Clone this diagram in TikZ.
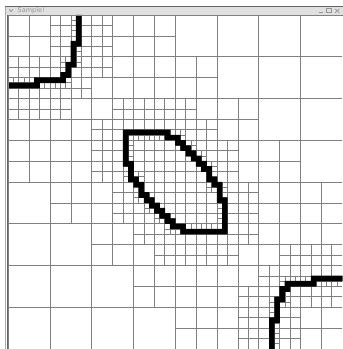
\documentclass[tikz,border=0pt]{standalone}
\usepackage{fontspec}
\setmainfont{DejaVu Sans}
\definecolor{gridgray}{RGB}{128,128,128}
\definecolor{titlebg}{RGB}{224,224,224}
\definecolor{framedark}{RGB}{100,100,100}
\definecolor{framelight}{RGB}{170,170,170}
\definecolor{titletext}{RGB}{150,150,150}
\ExplSyntaxOn
\dim_const:Nn \c_qt_h_dim {2.609375pt}

\intarray_new:cn { g_qt_st_0_intarray } {1}
\intarray_new:cn { g_qt_st_1_intarray } {4}
\intarray_new:cn { g_qt_st_2_intarray } {16}
\intarray_new:cn { g_qt_st_3_intarray } {64}
\intarray_new:cn { g_qt_st_4_intarray } {256}
\intarray_new:cn { g_qt_st_5_intarray } {1024}
\intarray_new:cn { g_qt_st_6_intarray } {4096}
\intarray_new:cn { g_qt_st_7_intarray } {16384}
\intarray_new:cn { g_qt_sp_0_intarray } {1}
\intarray_new:cn { g_qt_sp_1_intarray } {4}
\intarray_new:cn { g_qt_sp_2_intarray } {16}
\intarray_new:cn { g_qt_sp_3_intarray } {64}
\intarray_new:cn { g_qt_sp_4_intarray } {256}
\intarray_new:cn { g_qt_sp_5_intarray } {1024}
\intarray_new:cn { g_qt_sp_6_intarray } {4096}

\int_new:N \l_qt_side_int
\int_new:N \l_qt_cside_int
\int_new:N \l_qt_s_int
\int_new:N \l_qt_lev_int
\int_new:N \l_qt_a_int
\int_new:N \l_qt_b_int
\int_new:N \l_qt_c_int
\int_new:N \l_qt_d_int
\int_new:N \l_qt_fx_int
\int_new:N \l_qt_fy_int
\int_new:N \l_qt_fl_int
\int_new:N \l_qt_fs_int
\tl_new:N \l_qt_lt_tl
\tl_new:N \l_qt_ct_tl
\tl_new:N \l_qt_x_tl
\tl_new:N \l_qt_y_tl

\cs_new_protected:Npn \qt_black:nn #1#2
  { \intarray_gset:cnn { g_qt_st_7_intarray } { (#1) * 128 + (#2) + 1 } { 1 } }
\cs_new_protected:Npn \qt_unit:nn #1#2
  {
    \qt_black:nn { 2*(#1) } { 2*(#2) }
    \qt_black:nn { 2*(#1)+1 } { 2*(#2) }
    \qt_black:nn { 2*(#1) } { 2*(#2)+1 }
    \qt_black:nn { 2*(#1)+1 } { 2*(#2)+1 }
  }
% a pixel and its copy turned by 180 degrees about the centre
\cs_new_protected:Npn \qt_pix:nn #1#2
  { \qt_unit:nn {#1} {#2} \qt_unit:nn { 63-(#1) } { 63-(#2) } }
\cs_new_protected:Npn \qt_hrun:nnn #1#2#3
  { \int_step_inline:nnn {#2} {#3} { \qt_pix:nn {##1} {#1} } }
\cs_new_protected:Npn \qt_vrun:nnn #1#2#3
  { \int_step_inline:nnn {#2} {#3} { \qt_pix:nn {#1} {##1} } }

\cs_new_protected:Npn \qt_combine:nn #1#2
  {
    \int_set:Nn \l_qt_a_int { \intarray_item:cn { g_qt_st_ \l_qt_ct_tl _intarray } { (2*(#1)) * \l_qt_cside_int + 2*(#2) + 1 } }
    \int_set:Nn \l_qt_b_int { \intarray_item:cn { g_qt_st_ \l_qt_ct_tl _intarray } { (2*(#1)+1) * \l_qt_cside_int + 2*(#2) + 1 } }
    \int_set:Nn \l_qt_c_int { \intarray_item:cn { g_qt_st_ \l_qt_ct_tl _intarray } { (2*(#1)) * \l_qt_cside_int + 2*(#2) + 2 } }
    \int_set:Nn \l_qt_d_int { \intarray_item:cn { g_qt_st_ \l_qt_ct_tl _intarray } { (2*(#1)+1) * \l_qt_cside_int + 2*(#2) + 2 } }
    \int_compare:nTF { \l_qt_a_int = \l_qt_b_int = \l_qt_c_int = \l_qt_d_int < 2 }
      { \intarray_gset:cnn { g_qt_st_ \l_qt_lt_tl _intarray } { (#1) * \l_qt_side_int + (#2) + 1 } { \l_qt_a_int } }
      {
        \intarray_gset:cnn { g_qt_st_ \l_qt_lt_tl _intarray } { (#1) * \l_qt_side_int + (#2) + 1 } { 2 }
        \intarray_gset:cnn { g_qt_sp_ \l_qt_lt_tl _intarray } { (#1) * \l_qt_side_int + (#2) + 1 } { 1 }
      }
  }

\cs_new_protected:Npn \qt_level_combine:n #1
  {
    \tl_set:Nx \l_qt_lt_tl { \int_eval:n {#1} }
    \tl_set:Nx \l_qt_ct_tl { \int_eval:n {#1+1} }
    \int_set:Nn \l_qt_side_int { \fp_eval:n { 2^(#1) } }
    \int_set:Nn \l_qt_cside_int { 2 * \l_qt_side_int }
    \int_step_variable:nnNn {0} { \l_qt_side_int - 1 } \l_qt_x_tl
      {
        \int_step_variable:nnNn {0} { \l_qt_side_int - 1 } \l_qt_y_tl
          { \qt_combine:nn { \l_qt_x_tl } { \l_qt_y_tl } }
      }
  }

\cs_new_protected:Npn \qt_force_up:
  {
    \int_compare:nNnT
      { \intarray_item:cn { g_qt_sp_ \int_use:N \l_qt_fl_int _intarray } { \l_qt_fx_int * \l_qt_fs_int + \l_qt_fy_int + 1 } } = 0
      {
        \intarray_gset:cnn { g_qt_sp_ \int_use:N \l_qt_fl_int _intarray } { \l_qt_fx_int * \l_qt_fs_int + \l_qt_fy_int + 1 } {1}
        \int_compare:nNnT \l_qt_fl_int > 0
          {
            \int_decr:N \l_qt_fl_int
            \int_set:Nn \l_qt_fs_int { \l_qt_fs_int / 2 }
            \int_set:Nn \l_qt_fx_int { \int_div_truncate:nn { \l_qt_fx_int } { 2 } }
            \int_set:Nn \l_qt_fy_int { \int_div_truncate:nn { \l_qt_fy_int } { 2 } }
            \qt_force_up:
          }
      }
  }

\cs_new_protected:Npn \qt_force:nn #1#2
  {
    \int_set:Nn \l_qt_fx_int {#1}
    \int_set:Nn \l_qt_fy_int {#2}
    \int_compare:nT { 0 <= \l_qt_fx_int < \l_qt_side_int }
      {
        \int_compare:nT { 0 <= \l_qt_fy_int < \l_qt_side_int }
          {
            \int_set_eq:NN \l_qt_fl_int \l_qt_lev_int
            \int_set_eq:NN \l_qt_fs_int \l_qt_side_int
            \qt_force_up:
          }
      }
  }

\cs_new_protected:Npn \qt_balance_cell:nn #1#2
  {
    \int_compare:nNnT { \intarray_item:cn { g_qt_sp_ \l_qt_lt_tl _intarray } { (#1) * \l_qt_side_int + (#2) + 1 } } = 1
      {
        \int_compare:nNnT
          {
            \intarray_item:cn { g_qt_sp_ \l_qt_ct_tl _intarray } { (2*(#1)) * \l_qt_cside_int + 2*(#2) + 1 }
            + \intarray_item:cn { g_qt_sp_ \l_qt_ct_tl _intarray } { (2*(#1)+1) * \l_qt_cside_int + 2*(#2) + 1 }
            + \intarray_item:cn { g_qt_sp_ \l_qt_ct_tl _intarray } { (2*(#1)) * \l_qt_cside_int + 2*(#2) + 2 }
            + \intarray_item:cn { g_qt_sp_ \l_qt_ct_tl _intarray } { (2*(#1)+1) * \l_qt_cside_int + 2*(#2) + 2 }
          } > 0
          {
            \qt_force:nn { #1 - 1 } { #2 }
            \qt_force:nn { #1 + 1 } { #2 }
            \qt_force:nn { #1 } { #2 - 1 }
            \qt_force:nn { #1 } { #2 + 1 }
          }
      }
  }

\cs_new_protected:Npn \qt_balance_level:n #1
  {
    \tl_set:Nx \l_qt_lt_tl { \int_eval:n {#1} }
    \tl_set:Nx \l_qt_ct_tl { \int_eval:n {#1+1} }
    \int_set:Nn \l_qt_lev_int {#1}
    \int_set:Nn \l_qt_side_int { \fp_eval:n { 2^(#1) } }
    \int_set:Nn \l_qt_cside_int { 2 * \l_qt_side_int }
    \int_step_variable:nnNn {0} { \l_qt_side_int - 1 } \l_qt_x_tl
      {
        \int_step_variable:nnNn {0} { \l_qt_side_int - 1 } \l_qt_y_tl
          { \qt_balance_cell:nn { \l_qt_x_tl } { \l_qt_y_tl } }
      }
  }

\cs_new:Npn \qt_X:n #1 { \dim_eval:n { 8.3pt + \c_qt_h_dim * \int_eval:n {#1} } }
\cs_new:Npn \qt_Y:n #1 { \dim_eval:n { -15pt - \c_qt_h_dim * \int_eval:n {#1} } }

\cs_new_protected:Npn \qt_draw_level:n #1
  {
    \tl_set:Nx \l_qt_lt_tl { \int_eval:n {#1} }
    \int_set:Nn \l_qt_side_int { \fp_eval:n { 2^(#1) } }
    \int_set:Nn \l_qt_s_int { 128 / \l_qt_side_int }
    \int_step_variable:nnNn {0} { \l_qt_side_int - 1 } \l_qt_x_tl
      {
        \int_step_variable:nnNn {0} { \l_qt_side_int - 1 } \l_qt_y_tl
          {
            \int_compare:nNnT { \intarray_item:cn { g_qt_sp_ \l_qt_lt_tl _intarray } { \l_qt_x_tl * \l_qt_side_int + \l_qt_y_tl + 1 } } = 1
              {
                \pgfpathmoveto { \pgfqpoint { \qt_X:n { \l_qt_x_tl * \l_qt_s_int + \l_qt_s_int / 2 } } { \qt_Y:n { \l_qt_y_tl * \l_qt_s_int } } }
                \pgfpathlineto { \pgfqpoint { \qt_X:n { \l_qt_x_tl * \l_qt_s_int + \l_qt_s_int / 2 } } { \qt_Y:n { (\l_qt_y_tl + 1) * \l_qt_s_int } } }
                \pgfpathmoveto { \pgfqpoint { \qt_X:n { \l_qt_x_tl * \l_qt_s_int } } { \qt_Y:n { \l_qt_y_tl * \l_qt_s_int + \l_qt_s_int / 2 } } }
                \pgfpathlineto { \pgfqpoint { \qt_X:n { (\l_qt_x_tl + 1) * \l_qt_s_int } } { \qt_Y:n { \l_qt_y_tl * \l_qt_s_int + \l_qt_s_int / 2 } } }
              }
          }
      }
  }

\cs_new_protected:Npn \qt_draw_black:
  {
    \int_step_variable:nnNn {0} {127} \l_qt_x_tl
      {
        \int_step_variable:nnNn {0} {127} \l_qt_y_tl
          {
            \int_compare:nNnT { \intarray_item:cn { g_qt_st_7_intarray } { \l_qt_x_tl * 128 + \l_qt_y_tl + 1 } } = 1
              {
                \pgfpathrectangle
                  { \pgfqpoint { \dim_eval:n { \qt_X:n { \l_qt_x_tl } - 0.2pt } } { \dim_eval:n { \qt_Y:n { \l_qt_y_tl + 1 } - 0.2pt } } }
                  { \pgfqpoint { \dim_eval:n { \c_qt_h_dim + 0.4pt } } { \dim_eval:n { \c_qt_h_dim + 0.4pt } } }
              }
          }
      }
  }

\cs_new_protected:Npn \qtdraw
  {
    \pgfscope
    \pgfsetlinewidth{0.75pt}
    \pgfsetstrokecolor{gridgray}
    \int_step_inline:nnn {0} {6} { \qt_draw_level:n {##1} }
    \pgfusepath{stroke}
    \endpgfscope
    \pgfscope
    \pgfsetfillcolor{black}
    \qt_draw_black:
    \pgfusepath{fill}
    \endpgfscope
  }

% ---- the black pixels (64 x 64 grid; each also turned by 180 degrees) ----
% arc at the top left corner (its turn is the arc at the bottom right)
\qt_hrun:nnn {13} {0} {5}
\qt_hrun:nnn {12} {5} {10}
\qt_vrun:nnn {10} {11} {12}
\qt_vrun:nnn {11} {9} {11}
\qt_vrun:nnn {12} {5} {9}
\qt_vrun:nnn {13} {0} {5}
% lower left half of the central ellipse (its turn is the upper right half)
\qt_vrun:nnn {22} {22} {28}
\qt_vrun:nnn {23} {28} {31}
\qt_vrun:nnn {24} {31} {32}
\qt_vrun:nnn {25} {32} {34}
\qt_vrun:nnn {26} {34} {35}
\qt_vrun:nnn {27} {35} {36}
\qt_vrun:nnn {28} {36} {37}
\qt_vrun:nnn {29} {37} {38}
\qt_vrun:nnn {30} {38} {39}
\qt_vrun:nnn {31} {39} {40}
\qt_vrun:nnn {32} {40} {40}
\qt_vrun:nnn {33} {40} {41}
\qt_hrun:nnn {41} {34} {41}

% ---- quadtree ----
\int_step_inline:nnnn {6} {-1} {0} { \qt_level_combine:n {#1} }
\int_step_inline:nnnn {5} {-1} {1} { \qt_balance_level:n {#1} }
\ExplSyntaxOff

\begin{document}
\begin{tikzpicture}[x=1pt,y=-1pt,
  frameline/.style={line width=0.8pt},
  titlefont/.style={font=\fontsize{6.5}{7}\selectfont, text=titletext, inner sep=0pt}]
\useasboundingbox (0,0) rectangle (343,349);
\fill[white] (0,0) rectangle (343,349);
\fill[titlebg] (5,6.5) rectangle (343,15);
\draw[framedark, frameline] (5,6.5) -- (343,6.5);
\draw[framelight, frameline] (5.4,6.5) -- (5.4,349);
\draw[framedark, frameline] (7.4,15) -- (7.4,349);
\qtdraw
\draw[gridgray, line width=0.75pt] (8.3,15) -- (343,15);
\draw[gridgray, line width=0.75pt] (8.3,15) -- (8.3,349);
\node[titlefont, anchor=west] (title) at (17.5,11) {Sample!};
\draw[titletext, line width=0.8pt] (9.3,9.4) -- (11.1,11.6) -- (12.9,9.4);
\draw[titletext, line width=0.8pt] (318.5,12.5) -- (322.5,12.5);
\draw[titletext, line width=0.7pt] (326,8.8) rectangle (331,12.8);
\draw[titletext, line width=0.7pt] (335,8.8) -- (339.5,12.8) (335,12.8) -- (339.5,8.8);
\end{tikzpicture}
\end{document}
